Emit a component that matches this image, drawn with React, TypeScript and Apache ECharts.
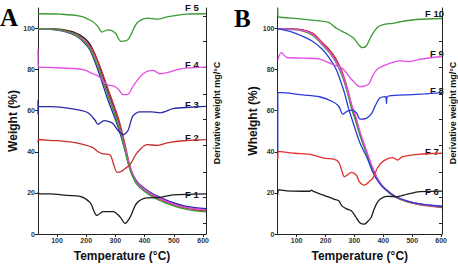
import React, { useEffect, useRef } from "react";
import * as echarts from "echarts";

type Pt = [number, number];

// Axis ticks
const tempTicks = [100, 200, 300, 400, 500, 600];
const weightTicks = [0, 20, 40, 60, 80, 100];
const derivTicks = [5, 18, 30, 43, 56, 68, 81, 94, 106];

// ---- Panel A: TGA (weight %) vs temperature ----
const tgaA_black: Pt[] = [[35,100],[80,99.9],[121,99.5],[155,98.4],[179,96.8],[200,94.5],[213,92.3],[225,89],[237,85],[254,78],[275,69],[299,59.5],[316,52],[333,42],[350,32],[367,26.5],[384,23.5],[419,19.8],[453,17.2],[487,15.3],[532,13.3],[573,12.2],[610,11.7]];
const tgaA_red: Pt[] = [[35,100],[80,99.8],[121,99.2],[155,97.8],[179,96],[200,93.5],[213,91.5],[225,88.5],[237,85],[254,79],[275,70.5],[299,61],[316,53.5],[333,43.5],[350,33],[367,26.5],[384,23.2],[419,19.5],[453,16.8],[487,14.8],[532,12.8],[573,11.8],[610,11.4]];
const tgaA_blue: Pt[] = [[35,100],[80,99.6],[121,98.8],[155,97.2],[179,95],[200,92],[213,89.5],[225,85.5],[237,81],[254,74],[275,65],[299,56],[316,49],[333,40.5],[350,32],[367,27],[384,24],[419,20.3],[453,17.8],[487,15.8],[532,13.8],[573,12.8],[610,12.3]];
const tgaA_magenta: Pt[] = [[35,100],[80,99.7],[121,99],[155,97.5],[179,95.5],[200,93],[213,90.5],[225,87],[237,83],[254,76.5],[275,67.8],[299,58.5],[316,51],[333,42],[350,32.5],[367,26.5],[384,23.5],[419,19.8],[453,17.2],[487,15.2],[532,13.2],[573,12.2],[610,11.8]];
const tgaA_green: Pt[] = [[35,100],[80,99.7],[121,99],[155,97.4],[179,95.2],[200,92.5],[213,90],[225,86.5],[237,82.5],[254,76],[275,67],[299,57.5],[316,50],[333,40.5],[350,31],[367,25.5],[384,22.5],[419,18.8],[453,16.2],[487,14.3],[532,12.3],[573,11.3],[610,10.8]];

// ---- Panel A: DTG traces (offset) ----
const dtgF5: Pt[] = [[35,107.2],[110,107.0],[179,106.0],[223,103.3],[240,101.0],[254,98.3],[275,99.4],[299,98.0],[319,93.8],[343,94.6],[374,102.7],[408,105.1],[446,104.6],[477,105.7],[545,107.0],[610,107.2]];
const dtgF4: Pt[] = [[35,90],[36,81.2],[76,81.1],[189,80.0],[223,78.0],[240,77],[258,74.5],[275,72.5],[295,72],[310,70.5],[326,67.8],[343,68.0],[360,71.8],[395,78.0],[429,79.6],[453,78.0],[477,78.5],[521,80.4],[610,81.2]];
const dtgF3: Pt[] = [[35,65.3],[35,58.2],[37,62.1],[110,61.8],[169,60.5],[206,59.0],[230,55.5],[240,53.4],[262,55.2],[278,54.7],[292,53.7],[309,50.4],[326,48.3],[343,50.4],[360,57.5],[384,59.4],[425,59.4],[453,59.0],[497,61.0],[556,61.7],[610,62.1]];
const dtgF2: Pt[] = [[35,44.5],[37,46.0],[76,45.6],[145,44.8],[189,43.6],[223,42.0],[237,40.4],[254,39.1],[282,38.5],[292,34.7],[306,30.0],[319,30.4],[333,31.9],[350,33.8],[374,39.5],[408,43.5],[443,43.1],[477,44.4],[545,45.5],[610,45.9]];
const dtgF1: Pt[] = [[35,20.4],[40,19.5],[76,19.5],[134,18.8],[179,18.3],[213,15.4],[237,9.0],[258,10.9],[292,10.9],[316,8.3],[333,5.2],[350,8.1],[374,15.2],[408,17.6],[453,17.8],[497,19.0],[610,19.5]];

// ---- Panel B: TGA (weight %) vs temperature ----
const tgaB_red: Pt[] = [[35,100],[77,99.8],[121,99.4],[155,97.8],[189,93.2],[212,90],[236,85.3],[253,80.5],[266,75.6],[280,68.5],[290,63],[304,56.8],[320,48.8],[344,39],[364,31.5],[385,25.5],[405,22],[439,18.2],[483,15.6],[527,14.2],[603,12.9]];
const tgaB_black: Pt[] = [[35,100],[77,99.8],[121,99.3],[155,97.6],[189,93],[212,89.7],[236,85],[253,80],[266,75],[280,68],[290,62.5],[304,56.3],[320,48.3],[344,38.7],[364,31.3],[385,25.5],[405,22.2],[439,18.5],[483,15.9],[527,14.5],[603,13.2]];
const tgaB_green: Pt[] = [[35,100],[77,99.6],[121,98.8],[155,96.8],[189,92],[212,88.5],[236,83.5],[253,78.5],[266,73.5],[280,66.5],[290,61],[304,55],[320,47.5],[344,38.3],[364,31],[385,25.3],[405,22],[439,18.3],[483,15.8],[527,14.4],[603,13.1]];
const tgaB_magenta: Pt[] = [[35,100],[77,99.7],[121,99],[155,97.2],[189,92.5],[212,89],[236,84],[253,79.5],[266,74.8],[280,68],[290,63],[304,57.5],[320,49.5],[344,39.8],[364,32],[385,25.8],[405,22.3],[439,18.5],[483,16],[527,14.6],[603,13.4]];
const tgaB_blue: Pt[] = [[35,100],[77,98.6],[121,96.2],[155,93.8],[189,89.9],[212,85.9],[236,80.4],[253,74],[266,68.5],[280,61],[290,56.6],[304,50.5],[320,44],[344,37],[364,30],[385,25],[405,22],[439,18.4],[483,16],[527,14.7],[603,13.5]];

// ---- Panel B: DTG traces (offset) ----
const dtgF10: Pt[] = [[35,110],[36,105.7],[43,105.5],[121,104.6],[179,103.7],[212,102.9],[239,100.0],[270,97.8],[297,95.4],[314,92.2],[327,90.7],[341,91.5],[358,96.2],[381,100.8],[408,102.2],[432,102.5],[459,103.3],[516,104.4],[603,104.9]];
const dtgF9: Pt[] = [[35,84.5],[47,88.3],[67,85.9],[121,85.6],[179,85.1],[222,82.7],[250,81.2],[266,79.6],[283,76.4],[304,73.2],[317,71.7],[337,72.1],[351,73.2],[364,77.2],[381,80.4],[415,82.7],[456,84.3],[486,83.9],[527,85.1],[603,86.4]];
const dtgF8: Pt[] = [[35,40.4],[35,68.8],[43,68.8],[121,67.7],[179,66.8],[222,64.6],[246,62.2],[260,58.3],[276,59.8],[293,60.3],[307,59.0],[320,55.9],[341,56.3],[358,58.3],[371,62.1],[388,66.2],[408,66.9],[411,63.5],[414,66.9],[476,67.7],[543,68.2],[603,68.8]];
const dtgF7: Pt[] = [[35,36.5],[37,40.2],[94,39.3],[148,38.8],[195,36.9],[229,36.4],[246,34.9],[256,31],[266,27.8],[277,28.9],[290,30.0],[307,28.6],[317,25.5],[334,23.8],[341,24.2],[351,25.5],[364,27.2],[381,32.5],[402,35.7],[432,37.2],[449,36.0],[466,37.6],[520,38.8],[603,39.3]];
const dtgF6: Pt[] = [[35,19],[37,21.5],[67,21.0],[145,20.8],[152,21.3],[158,20.7],[195,18.8],[229,17.0],[246,16.2],[256,13.8],[273,12.2],[290,11.2],[304,8.5],[320,5.3],[334,4.8],[344,5.8],[358,8.0],[368,12],[385,16.4],[415,18.3],[449,18.2],[483,19.4],[527,20.6],[603,20.9]];

const COL = {
  black: "#1b1b1b",
  redA: "#c4302c",
  blueA: "#2a2aa8",
  magenta: "#e64de6",
  green: "#3a9a34",
  redB: "#e2322b",
  blueB: "#2b3bd8",
};

const FONT = "'Liberation Sans', Arial, sans-serif";

function line(data: Pt[], color: string, x: number, y: number, smooth = 0.3) {
  return {
    type: "line",
    data,
    xAxisIndex: x,
    yAxisIndex: y,
    showSymbol: false,
    smooth,
    lineStyle: { color, width: 1.3 },
    itemStyle: { color },
    silent: true,
  };
}

function xAxis(grid: number, min: number, max: number) {
  return {
    type: "value",
    gridIndex: grid,
    min,
    max,
    name: "Temperature (°C)",
    nameLocation: "middle",
    nameGap: 16,
    nameTextStyle: { fontFamily: FONT, fontWeight: "bold", fontSize: 12, color: "#111" },
    axisLine: { lineStyle: { color: "#222", width: 1 } },
    axisTick: { customValues: tempTicks, length: 3, lineStyle: { color: "#222" } },
    axisLabel: { customValues: tempTicks, fontSize: 7, fontWeight: "bold", color: "#333", margin: 3, fontFamily: FONT },
    splitLine: { show: false },
  };
}

function yLeft(grid: number, name: string) {
  return {
    type: "value",
    gridIndex: grid,
    position: "left",
    min: 0,
    max: 110,
    name,
    nameLocation: "middle",
    nameGap: 18,
    nameTextStyle: { fontFamily: FONT, fontWeight: "bold", fontSize: 12, color: "#111" },
    axisLine: { show: true, lineStyle: { color: "#222", width: 1 } },
    axisTick: { show: true, customValues: weightTicks, length: 3, lineStyle: { color: "#222" } },
    axisLabel: { customValues: weightTicks, fontSize: 7, fontWeight: "bold", color: "#333", margin: 3, fontFamily: FONT },
    splitLine: { show: false },
  };
}

function yRight(grid: number) {
  return {
    type: "value",
    gridIndex: grid,
    position: "right",
    min: 0,
    max: 110,
    name: "Derivative weight mg/°C",
    nameLocation: "middle",
    nameGap: 6,
    nameTextStyle: {
      fontFamily: FONT,
      fontWeight: "bold",
      fontSize: 9,
      color: "#111",
      padding: [0, 0, 0, 16],
    },
    axisLine: { show: true, lineStyle: { color: "#222", width: 1 } },
    axisTick: { show: true, inside: true, customValues: derivTicks, length: 3, lineStyle: { color: "#222" } },
    axisLabel: { show: false },
    splitLine: { show: false },
  };
}

function tag(text: string, x: number, y: number) {
  return {
    type: "text",
    x,
    y,
    silent: true,
    style: { text, fontFamily: FONT, fontWeight: "bold", fontSize: 9.5, fill: "#111", verticalAlign: "middle" },
  };
}

function panelLetter(text: string, x: number, y: number) {
  return {
    type: "text",
    x,
    y,
    silent: true,
    style: {
      text,
      fontFamily: "'Liberation Serif', 'Times New Roman', serif",
      fontWeight: "bold",
      fontSize: 25,
      fill: "#000",
      verticalAlign: "middle",
    },
  };
}

export default function App() {
  const ref = useRef<HTMLDivElement>(null);

  useEffect(() => {
    if (!ref.current) return;
    const chart = echarts.init(ref.current, null, { renderer: "svg" });
    chart.setOption({
      animation: false,
      backgroundColor: "#fff",
      grid: [
        { left: 38, right: 252, top: 8, bottom: 28 },
        { left: 277.5, right: 12.5, top: 8, bottom: 28 },
      ],
      xAxis: [xAxis(0, 35, 610), xAxis(1, 34, 603)],
      yAxis: [yLeft(0, "Weight (%)"), yRight(0), yLeft(1, "Whelght (%)"), yRight(1)],
      series: [
        // panel A weight curves
        line(tgaA_black, COL.black, 0, 0, 0.4),
        line(tgaA_red, COL.redA, 0, 0, 0.4),
        line(tgaA_blue, COL.blueA, 0, 0, 0.4),
        line(tgaA_magenta, COL.magenta, 0, 0, 0.4),
        line(tgaA_green, COL.green, 0, 0, 0.4),
        // panel A derivative curves
        line(dtgF5, COL.green, 0, 1),
        line(dtgF4, COL.magenta, 0, 1),
        line(dtgF3, COL.blueA, 0, 1),
        line(dtgF2, COL.redA, 0, 1),
        line(dtgF1, COL.black, 0, 1),
        // panel B weight curves
        line(tgaB_black, COL.black, 1, 2, 0.4),
        line(tgaB_red, COL.redB, 1, 2, 0.4),
        line(tgaB_green, COL.green, 1, 2, 0.4),
        line(tgaB_magenta, COL.magenta, 1, 2, 0.4),
        line(tgaB_blue, COL.blueB, 1, 2, 0.4),
        // panel B derivative curves
        line(dtgF10, COL.green, 1, 3),
        line(dtgF9, COL.magenta, 1, 3),
        line(dtgF8, COL.blueB, 1, 3),
        line(dtgF7, COL.redB, 1, 3),
        line(dtgF6, COL.black, 1, 3),
      ],
      graphic: [
        panelLetter("A", 0, 17),
        panelLetter("B", 234, 18),
        tag("F 5", 185, 7.5),
        tag("F 4", 185, 64),
        tag("F 3", 185, 104),
        tag("F 2", 185, 137),
        tag("F 1", 185, 194),
        tag("F 10", 425, 13.5),
        tag("F 9", 430, 53),
        tag("F 8", 430, 90),
        tag("F 7", 425, 151),
        tag("F 6", 425, 191),
      ],
    });
    return () => chart.dispose();
  }, []);

  return (
    <div
      ref={ref}
      style={{ position: "fixed", left: 0, top: 0, width: 458, height: 267, background: "#fff" }}
    />
  );
}
